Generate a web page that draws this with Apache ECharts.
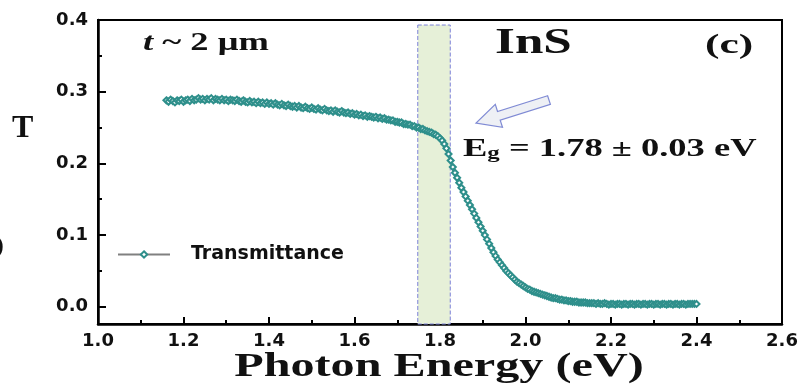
<!DOCTYPE html>
<html>
<head>
<meta charset="utf-8">
<script src="https://cdn.jsdelivr.net/npm/echarts@6/dist/echarts.min.js"></script>
<style>
  html, body { margin: 0; padding: 0; background: #fff; }
</style>
</head>
<body>
<div id="chart" style="width:801px;height:387px;"></div>
<script>
// photon energy (eV)
var energy = [
  1.160, 1.165, 1.170, 1.175, 1.180, 1.185, 1.190, 1.195, 1.200, 1.205,
  1.210, 1.215, 1.220, 1.225, 1.230, 1.235, 1.240, 1.245, 1.250, 1.255,
  1.260, 1.265, 1.270, 1.275, 1.280, 1.285, 1.290, 1.295, 1.300, 1.305,
  1.310, 1.315, 1.320, 1.325, 1.330, 1.335, 1.340, 1.345, 1.350, 1.355,
  1.360, 1.365, 1.370, 1.375, 1.380, 1.385, 1.390, 1.395, 1.400, 1.405,
  1.410, 1.415, 1.420, 1.425, 1.430, 1.435, 1.440, 1.445, 1.450, 1.455,
  1.460, 1.465, 1.470, 1.475, 1.480, 1.485, 1.490, 1.495, 1.500, 1.505,
  1.510, 1.515, 1.520, 1.525, 1.530, 1.535, 1.540, 1.545, 1.550, 1.555,
  1.560, 1.565, 1.570, 1.575, 1.580, 1.585, 1.590, 1.595, 1.600, 1.605,
  1.610, 1.615, 1.620, 1.625, 1.630, 1.635, 1.640, 1.645, 1.650, 1.655,
  1.660, 1.665, 1.670, 1.675, 1.680, 1.685, 1.690, 1.695, 1.700, 1.705,
  1.710, 1.715, 1.720, 1.725, 1.730, 1.735, 1.740, 1.745, 1.750, 1.755,
  1.760, 1.765, 1.770, 1.775, 1.780, 1.785, 1.790, 1.795, 1.800, 1.805,
  1.810, 1.815, 1.820, 1.825, 1.830, 1.835, 1.840, 1.845, 1.850, 1.855,
  1.860, 1.865, 1.870, 1.875, 1.880, 1.885, 1.890, 1.895, 1.900, 1.905,
  1.910, 1.915, 1.920, 1.925, 1.930, 1.935, 1.940, 1.945, 1.950, 1.955,
  1.960, 1.965, 1.970, 1.975, 1.980, 1.985, 1.990, 1.995, 2.000, 2.005,
  2.010, 2.015, 2.020, 2.025, 2.030, 2.035, 2.040, 2.045, 2.050, 2.055,
  2.060, 2.065, 2.070, 2.075, 2.080, 2.085, 2.090, 2.095, 2.100, 2.105,
  2.110, 2.115, 2.120, 2.125, 2.130, 2.135, 2.140, 2.145, 2.150, 2.155,
  2.160, 2.165, 2.170, 2.175, 2.180, 2.185, 2.190, 2.195, 2.200, 2.205,
  2.210, 2.215, 2.220, 2.225, 2.230, 2.235, 2.240, 2.245, 2.250, 2.255,
  2.260, 2.265, 2.270, 2.275, 2.280, 2.285, 2.290, 2.295, 2.300, 2.305,
  2.310, 2.315, 2.320, 2.325, 2.330, 2.335, 2.340, 2.345, 2.350, 2.355,
  2.360, 2.365, 2.370, 2.375, 2.380, 2.385, 2.390, 2.395, 2.400
]
// transmittance T
var transmittance = [
  0.288, 0.286, 0.289, 0.287, 0.285, 0.288, 0.287, 0.289, 0.286, 0.288,
  0.289, 0.287, 0.290, 0.288, 0.289, 0.291, 0.289, 0.290, 0.288, 0.290,
  0.289, 0.291, 0.288, 0.290, 0.289, 0.288, 0.290, 0.288, 0.289, 0.287,
  0.289, 0.288, 0.287, 0.289, 0.287, 0.286, 0.288, 0.286, 0.285, 0.287,
  0.285, 0.286, 0.284, 0.286, 0.284, 0.285, 0.283, 0.285, 0.283, 0.284,
  0.282, 0.284, 0.282, 0.281, 0.283, 0.281, 0.280, 0.282, 0.280, 0.279,
  0.280, 0.278, 0.280, 0.278, 0.277, 0.279, 0.277, 0.276, 0.278, 0.276,
  0.275, 0.277, 0.275, 0.274, 0.276, 0.274, 0.273, 0.274, 0.272, 0.274,
  0.272, 0.271, 0.273, 0.271, 0.270, 0.271, 0.269, 0.270, 0.268, 0.269,
  0.267, 0.268, 0.266, 0.267, 0.265, 0.266, 0.265, 0.264, 0.265, 0.263,
  0.264, 0.262, 0.263, 0.261, 0.261, 0.260, 0.260, 0.258, 0.258, 0.257,
  0.257, 0.255, 0.255, 0.254, 0.254, 0.252, 0.252, 0.250, 0.250, 0.248,
  0.248, 0.246, 0.245, 0.244, 0.243, 0.241, 0.240, 0.238, 0.235, 0.232,
  0.227, 0.221, 0.213, 0.204, 0.195, 0.187, 0.180, 0.173, 0.166, 0.160,
  0.154, 0.148, 0.142, 0.136, 0.130, 0.124, 0.118, 0.112, 0.106, 0.100,
  0.094, 0.088, 0.082, 0.076, 0.071, 0.066, 0.062, 0.058, 0.054, 0.050,
  0.047, 0.044, 0.041, 0.038, 0.035, 0.033, 0.031, 0.029, 0.027, 0.025,
  0.024, 0.022, 0.021, 0.020, 0.019, 0.018, 0.017, 0.016, 0.015, 0.014,
  0.013, 0.012, 0.012, 0.011, 0.010, 0.010, 0.009, 0.009, 0.008, 0.008,
  0.007, 0.007, 0.007, 0.006, 0.006, 0.006, 0.006, 0.005, 0.005, 0.005,
  0.005, 0.004, 0.005, 0.004, 0.004, 0.005, 0.004, 0.003, 0.004, 0.004,
  0.003, 0.004, 0.004, 0.003, 0.004, 0.004, 0.003, 0.004, 0.004, 0.003,
  0.004, 0.004, 0.003, 0.004, 0.004, 0.003, 0.004, 0.004, 0.003, 0.004,
  0.004, 0.003, 0.004, 0.004, 0.003, 0.004, 0.004, 0.003, 0.004, 0.004,
  0.003, 0.004, 0.004, 0.003, 0.004, 0.004, 0.004, 0.004, 0.004
]
var xTicks = [1.0, 1.2, 1.4, 1.6, 1.8, 2.0, 2.2, 2.4, 2.6]
var yTicks = [0.0, 0.1, 0.2, 0.3, 0.4]
var yMinorTicks = [0.05, 0.15, 0.25, 0.35]
var yRange = [-0.024, 0.4]
var bandX = [1.748, 1.824]   // shaded gap region
var bandTop = 0.393

var teal = '#2e8f8b'
var serif = '"Liberation Serif", "Times New Roman", serif'
var sans = '"DejaVu Sans", Arial, sans-serif'
var stretch = 1.46   // the source picture is stretched sideways

var points = energy.map(function (e, i) { return [e, transmittance[i]] })

var chart = echarts.init(document.getElementById('chart'))
var option = {
  animation: false,
  backgroundColor: '#fff',
  grid: {
    left: 98, right: 19, top: 20, bottom: 63,
    show: true, borderColor: '#000', borderWidth: 2
  },
  legend: {
    data: ['Transmittance'],
    left: 112, top: 240,
    itemWidth: 52, itemHeight: 8,
    textStyle: { fontFamily: sans, fontWeight: 'bold', fontSize: 19, color: '#111', padding: [0, 0, 0, 16] }
  },
  xAxis: {
    type: 'value',
    min: xTicks[0], max: xTicks[xTicks.length - 1], interval: 0.2,
    axisLine: { onZero: false, lineStyle: { color: '#000', width: 2.5 } },
    axisTick: { inside: true, length: 7, lineStyle: { color: '#000', width: 2 } },
    minorTick: { show: true, splitNumber: 2, length: 4, lineStyle: { color: '#000', width: 2 } },
    splitLine: { show: false },
    axisLabel: {
      fontFamily: sans, fontWeight: 'bold', fontSize: 18, color: '#111', margin: 8,
      formatter: function (v) { return v.toFixed(1) }
    }
  },
  yAxis: [{
    type: 'value',
    min: yRange[0], max: yRange[1],
    axisLine: { show: true, lineStyle: { color: '#000', width: 2.5 } },
    axisTick: { show: true, inside: true, length: 8, lineStyle: { color: '#000', width: 2 }, customValues: yTicks },
    splitLine: { show: false },
    axisLabel: {
      fontFamily: sans, fontWeight: 'bold', fontSize: 18, color: '#111', margin: 10,
      customValues: yTicks,
      formatter: function (v) { return v.toFixed(1) }
    }
  }, {
    type: 'value',
    position: 'left',
    min: yRange[0], max: yRange[1],
    axisLine: { show: false },
    axisTick: { show: true, inside: true, length: 4, lineStyle: { color: '#000', width: 2 }, customValues: yMinorTicks },
    axisLabel: { show: false },
    splitLine: { show: false }
  }],
  series: [{
    name: 'Transmittance',
    type: 'line',
    yAxisIndex: 0,
    data: points,
    symbol: 'emptyDiamond',
    symbolSize: 6,
    showAllSymbol: true,
    itemStyle: { color: teal, borderWidth: 1 },
    lineStyle: { color: '#808080', width: 1 },
    markArea: {
      silent: true,
      itemStyle: { color: '#e6f0d8', borderColor: '#7b80d8', borderWidth: 1, borderType: 'dashed' },
      data: [[{ xAxis: bandX[0], yAxis: bandTop }, { xAxis: bandX[1], yAxis: yRange[0] }]]
    }
  }],
  graphic: [
    {
      type: 'text', x: 12, y: 129,
      style: { text: 'T', font: 'bold 32px ' + serif, fill: '#111', textVerticalAlign: 'middle' }
    },
    {
      type: 'text', x: -10, y: 246, scaleX: stretch,
      style: { text: ')', font: 'bold 30px ' + serif, fill: '#111', textVerticalAlign: 'middle' }
    },
    {
      type: 'text', x: 143, y: 44, scaleX: stretch,
      style: {
        text: '{i|t} ~ 2 μm', font: 'bold 25px ' + serif, fill: '#111', textVerticalAlign: 'middle',
        rich: { i: { fontStyle: 'italic', fontWeight: 'bold', fontSize: 25, fontFamily: serif, fill: '#111' } }
      }
    },
    {
      type: 'text', x: 495, y: 44, scaleX: stretch,
      style: { text: 'InS', font: 'bold 35px ' + serif, fill: '#111', textVerticalAlign: 'middle' }
    },
    {
      type: 'text', x: 705, y: 46, scaleX: 1.55,
      style: { text: '(c)', font: 'bold 28px ' + serif, fill: '#111', textVerticalAlign: 'middle' }
    },
    {
      type: 'text', x: 463, y: 150, scaleX: stretch,
      style: {
        text: 'E{s|g} = 1.78 ± 0.03 eV', font: 'bold 25px ' + serif, fill: '#111', textVerticalAlign: 'middle',
        rich: { s: { fontSize: 17, fontWeight: 'bold', fontFamily: serif, fill: '#111', padding: [8, 0, 0, 0] } }
      }
    },
    {
      type: 'text', x: 439, y: 367, scaleX: stretch,
      style: { text: 'Photon Energy (eV)', font: 'bold 33px ' + serif, fill: '#111', textAlign: 'center', textVerticalAlign: 'middle' }
    },
    {
      // hollow arrow pointing at the absorption edge
      type: 'polygon',
      shape: {
        points: [[547.6, 95.7], [497.5, 111.5], [495.3, 104.3], [476, 123], [502.5, 127.3], [500.2, 120.1], [550.4, 104.3]]
      },
      style: { fill: '#eef0f5', stroke: '#7f8ad4', lineWidth: 1.2 }
    }
  ]
}
chart.setOption(option)
</script>
</body>
</html>
